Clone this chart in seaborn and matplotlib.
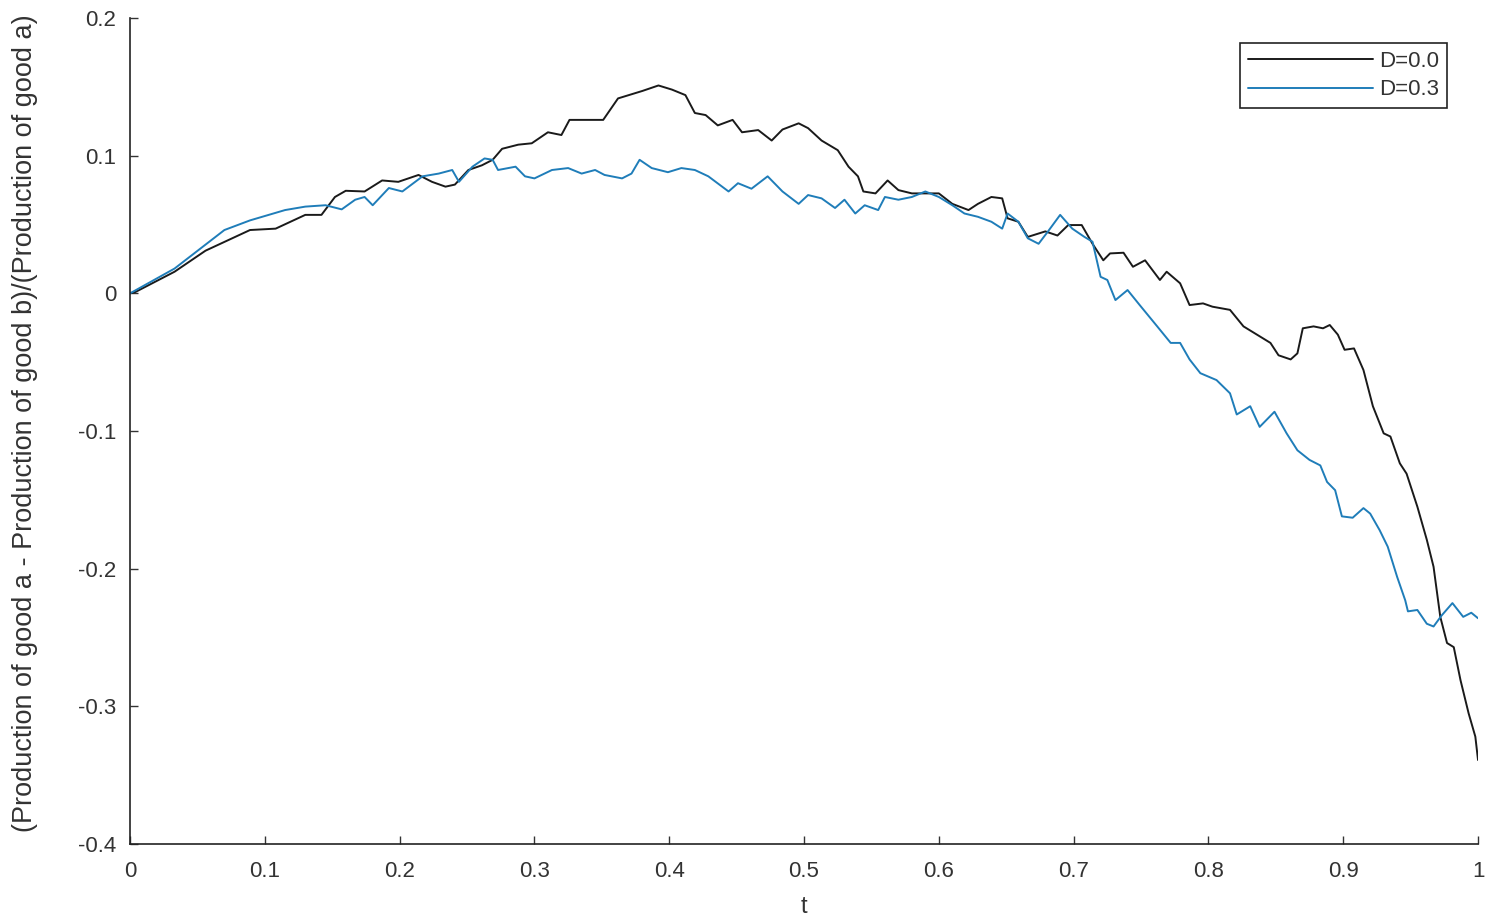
import pandas as pd
import matplotlib
matplotlib.use("Agg")
import matplotlib.pyplot as plt
import seaborn as sns

# values
t_d0 = [0.000, 0.004, 0.033, 0.056, 0.089, 0.108, 0.130, 0.142, 0.152, 0.160,
        0.174, 0.187, 0.199, 0.214, 0.224, 0.234, 0.241, 0.251, 0.261, 0.269,
        0.276, 0.288, 0.298, 0.310, 0.320, 0.326, 0.340, 0.351, 0.362, 0.380,
        0.392, 0.402, 0.412, 0.419, 0.427, 0.436, 0.447, 0.454, 0.466, 0.476,
        0.484, 0.496, 0.503, 0.513, 0.525, 0.533, 0.540, 0.544, 0.553, 0.562,
        0.570, 0.580, 0.590, 0.600, 0.610, 0.622, 0.629, 0.639, 0.647, 0.651,
        0.659, 0.666, 0.679, 0.688, 0.696, 0.706, 0.714, 0.722, 0.727, 0.737,
        0.744, 0.753, 0.764, 0.769, 0.779, 0.786, 0.796, 0.803, 0.816, 0.826,
        0.836, 0.846, 0.852, 0.861, 0.866, 0.870, 0.878, 0.885, 0.890, 0.896,
        0.901, 0.908, 0.915, 0.922, 0.930, 0.935, 0.942, 0.947, 0.955, 0.962,
        0.967, 0.972, 0.977, 0.982, 0.987, 0.993, 0.998, 1.000]
v_d0 = [0.000, 0.001, 0.0157, 0.031, 0.046, 0.047, 0.057, 0.057, 0.070, 0.0745,
        0.074, 0.082, 0.081, 0.086, 0.081, 0.0775, 0.079, 0.0896, 0.093, 0.097,
        0.105, 0.108, 0.109, 0.117, 0.115, 0.126, 0.126, 0.126, 0.1416, 0.147,
        0.151, 0.148, 0.144, 0.131, 0.1295, 0.122, 0.126, 0.117, 0.1186, 0.111,
        0.119, 0.1235, 0.120, 0.111, 0.104, 0.092, 0.085, 0.074, 0.0726, 0.082,
        0.075, 0.0726, 0.0726, 0.0726, 0.065, 0.0605, 0.065, 0.070, 0.069, 0.0545,
        0.052, 0.041, 0.045, 0.042, 0.0496, 0.0496, 0.036, 0.024, 0.029, 0.0295,
        0.0193, 0.024, 0.0097, 0.0157, 0.0073, -0.0085, -0.0073, -0.0097, -0.012, -0.024,
        -0.030, -0.036, -0.045, -0.048, -0.0436, -0.0254, -0.024, -0.0254, -0.023, -0.030,
        -0.041, -0.040, -0.0557, -0.082, -0.1017, -0.104, -0.1235, -0.131, -0.155, -0.179,
        -0.1986, -0.235, -0.254, -0.257, -0.281, -0.305, -0.322, -0.339]

t_d3 = [0.000, 0.033, 0.070, 0.089, 0.115, 0.130, 0.145, 0.157, 0.167, 0.174,
        0.180, 0.192, 0.202, 0.217, 0.229, 0.239, 0.244, 0.254, 0.263, 0.269,
        0.273, 0.286, 0.293, 0.300, 0.313, 0.325, 0.335, 0.345, 0.352, 0.365,
        0.372, 0.378, 0.387, 0.399, 0.409, 0.419, 0.429, 0.444, 0.451, 0.461,
        0.473, 0.484, 0.496, 0.503, 0.513, 0.523, 0.530, 0.538, 0.545, 0.555,
        0.560, 0.570, 0.580, 0.590, 0.600, 0.610, 0.619, 0.629, 0.639, 0.647,
        0.651, 0.659, 0.666, 0.674, 0.681, 0.690, 0.699, 0.708, 0.714, 0.720,
        0.725, 0.731, 0.740, 0.749, 0.762, 0.772, 0.779, 0.786, 0.794, 0.806,
        0.816, 0.821, 0.831, 0.838, 0.849, 0.858, 0.866, 0.875, 0.883, 0.888,
        0.894, 0.899, 0.907, 0.915, 0.920, 0.927, 0.933, 0.940, 0.946, 0.948,
        0.955, 0.962, 0.967, 0.973, 0.981, 0.989, 0.995, 1.000]
v_d3 = [0.000, 0.018, 0.046, 0.053, 0.0605, 0.063, 0.064, 0.061, 0.068, 0.070,
        0.064, 0.0765, 0.074, 0.085, 0.087, 0.0896, 0.081, 0.092, 0.098, 0.097,
        0.0896, 0.092, 0.085, 0.0835, 0.0896, 0.091, 0.087, 0.0896, 0.086, 0.0835,
        0.087, 0.097, 0.091, 0.088, 0.091, 0.0896, 0.085, 0.074, 0.080, 0.076,
        0.085, 0.074, 0.065, 0.0714, 0.069, 0.062, 0.068, 0.058, 0.064, 0.0605,
        0.070, 0.068, 0.070, 0.074, 0.070, 0.064, 0.058, 0.0556, 0.052, 0.047,
        0.058, 0.052, 0.040, 0.036, 0.045, 0.057, 0.047, 0.041, 0.0375, 0.012,
        0.0097, -0.0049, 0.0024, -0.0085, -0.024, -0.036, -0.036, -0.048, -0.058, -0.063,
        -0.0726, -0.088, -0.082, -0.097, -0.086, -0.1017, -0.114, -0.121, -0.125, -0.137,
        -0.143, -0.162, -0.163, -0.156, -0.160, -0.172, -0.184, -0.206, -0.223, -0.231,
        -0.230, -0.240, -0.242, -0.234, -0.225, -0.235, -0.232, -0.236]

labels = ["D=0.0", "D=0.3"]
x_ticks = [0, 0.1, 0.2, 0.3, 0.4, 0.5, 0.6, 0.7, 0.8, 0.9, 1]
x_ticklabels = ["0", "0.1", "0.2", "0.3", "0.4", "0.5", "0.6", "0.7", "0.8", "0.9", "1"]
y_ticks = [-0.4, -0.3, -0.2, -0.1, 0, 0.1, 0.2]
y_ticklabels = ["-0.4", "-0.3", "-0.2", "-0.1", "0", "0.1", "0.2"]

df = pd.concat([
    pd.DataFrame({"t": t_d0, "v": v_d0, "series": labels[0]}),
    pd.DataFrame({"t": t_d3, "v": v_d3, "series": labels[1]}),
])

sns.set_style("white")
plt.rcParams["font.family"] = ["Liberation Sans", "DejaVu Sans"]

fig = plt.figure(figsize=(14.88, 9.19), dpi=100)
ax = fig.add_axes([0.0874, 0.0816, 0.9059, 0.8988])

sns.lineplot(data=df, x="t", y="v", hue="series", estimator=None, sort=False,
             palette={"D=0.0": "#1a1a1a", "D=0.3": "#1f7db9"}, linewidth=1.4, ax=ax)

ax.set_xlim(0, 1)
ax.set_ylim(-0.4, 0.2)
ax.set_xticks(x_ticks)
ax.set_xticklabels(x_ticklabels)
ax.set_yticks(y_ticks)
ax.set_yticklabels(y_ticklabels)
ax.tick_params(direction="in", length=6, width=1, labelsize=16, colors="#333333",
               bottom=True, left=True)
ax.tick_params(axis="x", pad=12)
ax.tick_params(axis="y", pad=10)
for side in ["top", "right"]:
    ax.spines[side].set_visible(False)
for side in ["left", "bottom"]:
    ax.spines[side].set_color("#222222")
    ax.spines[side].set_linewidth(1.2)

ax.set_xlabel("t", fontsize=17, labelpad=10, color="#333333")
ax.set_ylabel("(Production of good a - Production of good b)/(Production of good a)",
              fontsize=19.5, color="#333333")
ax.yaxis.set_label_coords(-0.068, 0.51)

leg = ax.legend(title=None, loc="upper right", bbox_to_anchor=(0.977, 0.970),
                borderaxespad=0, fontsize=16, handlelength=5.6, fancybox=False,
                framealpha=1, edgecolor="#222222", borderpad=0.35, labelspacing=0.35,
                handletextpad=0.3)
leg.get_frame().set_linewidth(1.2)
for txt in leg.get_texts():
    txt.set_color("#333333")

fig.savefig("out.png", dpi=100)
